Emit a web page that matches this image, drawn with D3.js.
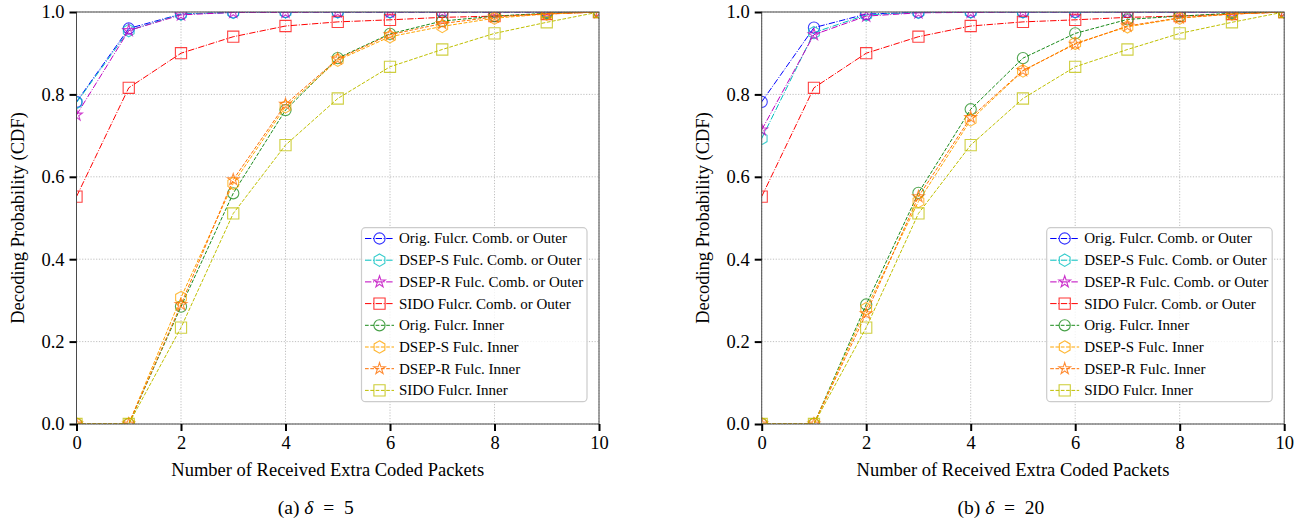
<!DOCTYPE html>
<html><head><meta charset="utf-8">
<script src="https://cdn.jsdelivr.net/npm/d3@7"></script>
<style>
body{margin:0;background:#fff}
svg{display:block}
text{font-family:"Liberation Serif","Times New Roman",serif;fill:#000}
</style>
</head><body>
<svg id="c" width="1305" height="525"></svg>
<script>
// ---------- data ----------
const xValues = [0,1,2,3,4,5,6,7,8,9,10];
const xTicks = [0,2,4,6,8,10];
const yTicks = [0.0,0.2,0.4,0.6,0.8,1.0];
const seriesNames = [
  "Orig. Fulcr. Comb. or Outer",
  "DSEP-S Fulc. Comb. or Outer",
  "DSEP-R Fulc. Comb. or Outer",
  "SIDO Fulcr. Comb. or Outer",
  "Orig. Fulcr. Inner",
  "DSEP-S Fulc. Inner",
  "DSEP-R Fulc. Inner",
  "SIDO Fulcr. Inner"
];
const captions = [["(a) ","δ","\u2002=\u20025"],["(b) ","δ","\u2002=\u200220"]];

// panel (a) delta = 5
const a_origComb  = [0.782,0.960,0.995,0.999,1.000,1.000,1.000,1.000,1.000,1.000,1.000];
const a_dsepSComb = [0.780,0.955,0.995,0.999,1.000,1.000,1.000,1.000,1.000,1.000,1.000];
const a_dsepRComb = [0.750,0.955,0.993,0.999,0.999,1.000,1.000,1.000,1.000,1.000,1.000];
const a_sidoComb  = [0.552,0.816,0.900,0.940,0.966,0.976,0.981,0.987,0.990,0.995,1.000];
const a_origInner  = [0.0,0.0,0.285,0.560,0.762,0.888,0.947,0.978,0.990,0.997,1.000];
const a_dsepSInner = [0.0,0.0,0.307,0.584,0.770,0.883,0.940,0.965,0.985,0.995,1.000];
const a_dsepRInner = [0.0,0.0,0.290,0.593,0.776,0.886,0.945,0.972,0.988,0.996,1.000];
const a_sidoInner  = [0.0,0.0,0.234,0.511,0.677,0.790,0.867,0.909,0.948,0.975,1.000];

// panel (b) delta = 20
const b_origComb  = [0.782,0.962,0.995,0.999,1.000,1.000,1.000,1.000,1.000,1.000,1.000];
const b_dsepSComb = [0.693,0.950,0.993,0.999,1.000,1.000,1.000,1.000,1.000,1.000,1.000];
const b_dsepRComb = [0.714,0.945,0.990,0.998,0.999,1.000,1.000,1.000,1.000,1.000,1.000];
const b_sidoComb  = [0.552,0.816,0.900,0.940,0.966,0.976,0.981,0.987,0.990,0.995,1.000];
const b_origInner  = [0.0,0.0,0.290,0.561,0.764,0.888,0.948,0.982,0.990,0.997,1.000];
const b_dsepSInner = [0.0,0.0,0.280,0.540,0.738,0.857,0.924,0.964,0.985,0.995,1.000];
const b_dsepRInner = [0.0,0.0,0.268,0.552,0.744,0.858,0.922,0.966,0.986,0.995,1.000];
const b_sidoInner  = [0.0,0.0,0.234,0.511,0.677,0.790,0.867,0.909,0.948,0.975,1.000];

const panelA = [a_origComb,a_dsepSComb,a_dsepRComb,a_sidoComb,a_origInner,a_dsepSInner,a_dsepRInner,a_sidoInner];
const panelB = [b_origComb,b_dsepSComb,b_dsepRComb,b_sidoComb,b_origInner,b_dsepSInner,b_dsepRInner,b_sidoInner];

// ---------- styles ----------
const colors = ["#0000ff","#00bfbf","#bf00bf","#ff0000","#1a8a1a","#ffa500","#ff6f00","#bfbf00"];
const markers = ["circle","hexagon","star","square","circle","hexagon","star","square"];
const dashes = ["6.4,1.6,1,1.6","6.4,1.6,1,1.6","6.4,1.6,1,1.6","6.4,1.6,1,1.6","3.7,1.6","3.7,1.6","3.7,1.6","3.7,1.6"];

const svg = d3.select("#c");
const plotTop = 12, plotBottom = 424, plotW = 522.5;
const panelsX = [76.5, 761.7];

function markerPath(type){
  if(type==="circle") return d3.symbol(d3.symbolCircle, Math.PI*5.6*5.6)();
  if(type==="square"){const s=5.6;return `M${-s},${-s}H${s}V${s}H${-s}Z`;}
  if(type==="star") return d3.symbol(d3.symbolStar, 42)();
  if(type==="hexagon"){
    const r=6.2; let p="";
    for(let i=0;i<6;i++){const a=Math.PI/3*i - Math.PI/2; p+=(i?"L":"M")+(r*Math.cos(a)).toFixed(2)+","+(r*Math.sin(a)).toFixed(2);}
    return p+"Z";
  }
}

function drawPanel(pi, data){
  const x0 = panelsX[pi];
  const x = d3.scaleLinear().domain([0,10]).range([x0, x0+plotW]);
  const y = d3.scaleLinear().domain([0,1]).range([plotBottom, plotTop]);
  const g = svg.append("g");
  const clipId = "clip"+pi;
  svg.append("defs").append("clipPath").attr("id",clipId)
    .append("rect").attr("x",x0).attr("y",plotTop).attr("width",plotW).attr("height",plotBottom-plotTop);

  // grid
  g.append("g").selectAll("line").data(xTicks).join("line")
    .attr("x1",d=>x(d)).attr("x2",d=>x(d)).attr("y1",plotTop).attr("y2",plotBottom)
    .attr("stroke","#b0b0b0").attr("stroke-width",0.8).attr("stroke-dasharray","1.2,1.6");
  g.append("g").selectAll("line").data(yTicks).join("line")
    .attr("x1",x0).attr("x2",x0+plotW).attr("y1",d=>y(d)).attr("y2",d=>y(d))
    .attr("stroke","#b0b0b0").attr("stroke-width",0.8).attr("stroke-dasharray","1.2,1.6");

  // series
  const plot = g.append("g").attr("clip-path",`url(#${clipId})`);
  const line = d3.line().x((d,i)=>x(xValues[i])).y(d=>y(d));
  data.forEach((vals,k)=>{
    plot.append("path").attr("d",line(vals)).attr("fill","none")
      .attr("stroke",colors[k]).attr("stroke-width",1).attr("stroke-dasharray",dashes[k]);
    plot.append("g").selectAll("path").data(vals).join("path")
      .attr("d",markerPath(markers[k]))
      .attr("transform",(d,i)=>`translate(${x(xValues[i])},${y(d)})`)
      .attr("fill","none").attr("stroke",colors[k]).attr("stroke-width",1.1).attr("stroke-opacity",0.75);
  });

  // spines
  g.append("rect").attr("x",x0).attr("y",plotTop).attr("width",plotW).attr("height",plotBottom-plotTop)
    .attr("fill","none").attr("stroke","#4a4a4a").attr("stroke-width",1);

  // axes
  const xAxis = d3.axisBottom(x).tickValues(xTicks).tickFormat(d3.format("d")).tickSize(7).tickPadding(5);
  const yAxis = d3.axisLeft(y).tickValues(yTicks).tickFormat(d3.format(".1f")).tickSize(7).tickPadding(5);
  const gx = g.append("g").attr("transform",`translate(0,${plotBottom})`).call(xAxis);
  const gy = g.append("g").attr("transform",`translate(${x0},0)`).call(yAxis);
  [gx,gy].forEach(a=>{
    a.select(".domain").remove();
    a.selectAll(".tick line").attr("stroke","#000").attr("stroke-width",2);
    a.selectAll(".tick text").attr("font-family","Liberation Serif, serif").attr("font-size",18.5).attr("fill","#000");
  });

  // axis labels
  g.append("text").attr("x",x0+plotW/2-10).attr("y",476).attr("text-anchor","middle")
    .attr("font-size",18.5).text("Number of Received Extra Coded Packets");
  g.append("text").attr("transform",`translate(${x0-53},${(plotTop+plotBottom)/2}) rotate(-90)`)
    .attr("text-anchor","middle").attr("font-size",18.5).text("Decoding Probability (CDF)");

  // caption
  const cap = g.append("text").attr("x",x0+plotW/2-22).attr("y",514).attr("text-anchor","middle").attr("font-size",19.5);
  cap.append("tspan").text(captions[pi][0]);
  cap.append("tspan").attr("font-style","italic").text(captions[pi][1]);
  cap.append("tspan").text(captions[pi][2]);

  // legend
  const lx = x0+285, ly = 227.7, lw = 225.5, lh = 174;
  const lg = g.append("g");
  lg.append("rect").attr("x",lx).attr("y",ly).attr("width",lw).attr("height",lh).attr("rx",4)
    .attr("fill","#fff").attr("fill-opacity",0.8).attr("stroke","#cccccc").attr("stroke-width",1.2);
  seriesNames.forEach((name,k)=>{
    const yy = 238.5 + k*21.7;
    lg.append("line").attr("x1",lx+3.5).attr("x2",lx+32.5).attr("y1",yy).attr("y2",yy)
      .attr("stroke",colors[k]).attr("stroke-width",1).attr("stroke-dasharray",dashes[k]);
    lg.append("path").attr("d",markerPath(markers[k])).attr("transform",`translate(${lx+18},${yy})`)
      .attr("fill","none").attr("stroke",colors[k]).attr("stroke-width",1.1).attr("stroke-opacity",0.8);
    lg.append("text").attr("x",lx+37.5).attr("y",yy).attr("dy","0.33em").attr("font-size",15).text(name);
  });
}

drawPanel(0, panelA);
drawPanel(1, panelB);
</script>
</body></html>
